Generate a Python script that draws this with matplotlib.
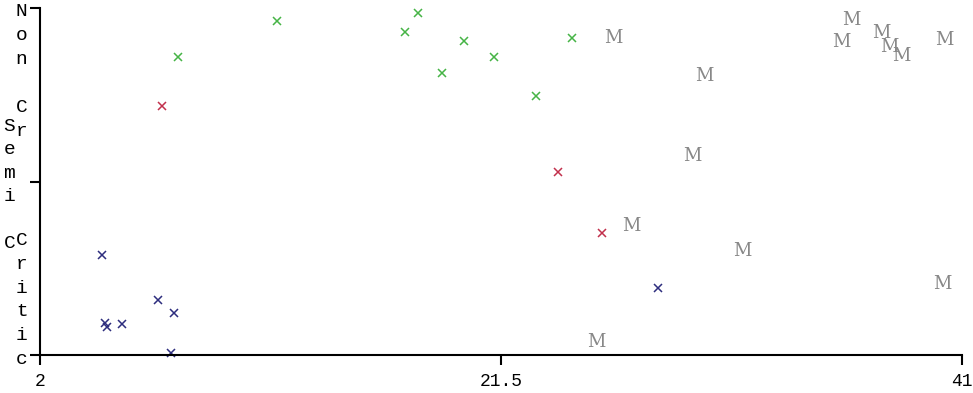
import matplotlib
matplotlib.use("Agg")
import matplotlib.pyplot as plt
from matplotlib.transforms import Affine2D

# data (x value, class level 0=Critic .. 2=Non Critic)
blue_x = [4.61, 4.75, 4.83, 5.46, 6.99, 7.68, 7.54, 28.15]
blue_y = [0.576, 0.186, 0.160, 0.177, 0.317, 0.240, 0.010, 0.384]

red_x = [7.16, 23.92, 25.77]
red_y = [1.435, 1.056, 0.701]

green_x = [7.85, 12.01, 18.00, 17.44, 19.92, 21.22, 18.99, 22.97, 24.52]
green_y = [1.719, 1.927, 1.969, 1.863, 1.812, 1.716, 1.627, 1.495, 1.825]

m_x = [26.24, 30.09, 36.30, 35.91, 37.60, 37.92, 38.45, 40.24,
       29.61, 27.00, 31.71, 40.17, 25.55]
m_y = [1.825, 1.608, 1.931, 1.806, 1.854, 1.773, 1.723, 1.816,
       1.147, 0.745, 0.601, 0.409, 0.077]

x_ticks = [2, 21.5, 41]
x_labels = ["2", "21.5", "41"]
y_levels = [0, 1, 2]
y_names = ["Critic", "Semi Critic", "Non Critic"]

W, H = 973, 393
fig = plt.figure(figsize=(W / 100, H / 100), dpi=100)
ax = fig.add_axes([40 / W, (H - 355) / H, 922 / W, 347 / H])

ax.plot(blue_x, blue_y, "x", color="#2e2e7e", ms=5.5, mew=1.1, clip_on=False)
ax.plot(red_x, red_y, "x", color="#c2304c", ms=5.5, mew=1.1, clip_on=False)
ax.plot(green_x, green_y, "x", color="#46b446", ms=5.5, mew=1.1, clip_on=False)
for x, y in zip(m_x, m_y):
    ax.text(x, y, "M", color="#888888", fontsize=13, family="DejaVu Serif",
            ha="center", va="center")

ax.set_xlim(2, 41)
ax.set_ylim(0, 2)
for s in ["top", "right"]:
    ax.spines[s].set_visible(False)
for s in ["left", "bottom"]:
    ax.spines[s].set_linewidth(1.5)
ax.set_xticks(x_ticks)
ax.set_xticklabels(x_labels, family="Liberation Mono", fontsize=13)
ax.set_yticks(y_levels)
ax.set_yticklabels([])
ax.tick_params(axis="both", length=7, width=1.5, direction="out")
ax.tick_params(axis="x", pad=6)

# stacked vertical y labels, one character per line, placed in figure pixels
pix = Affine2D().scale(1 / W, -1 / H).translate(0, 1) + fig.transFigure
label_cols = [(21.5, 11.7, 24.0, 6), (9.3, 126.7, 23.3, 6), (21.7, 240.7, 23.7, 6)]
for name, (cx, cy, step, shown) in zip(y_names[::-1], label_cols):
    for i, ch in enumerate(name[:shown]):
        if ch == " ":
            continue
        fig.text(cx, cy + i * step, ch, transform=pix, family="Liberation Mono",
                 fontsize=14, ha="center", va="center")

fig.savefig("out.png", dpi=100)
